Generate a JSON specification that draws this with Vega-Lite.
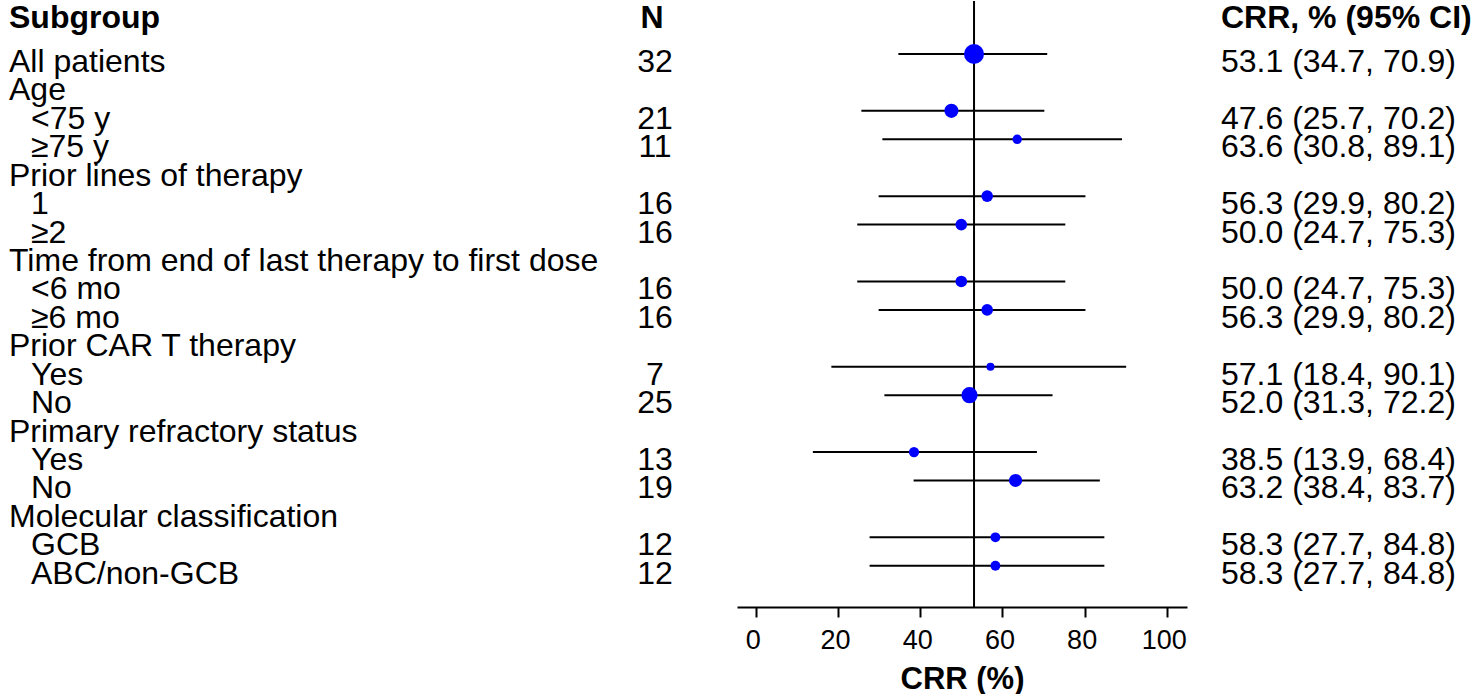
{
  "$schema": "https://vega.github.io/schema/vega-lite/v6.json",
  "padding": 0,
  "spacing": 0,
  "bounds": "flush",
  "background": "white",
  "config": {
    "view": {"stroke": null},
    "font": "Liberation Sans",
    "text": {"font": "Liberation Sans", "color": "black"}
  },
  "datasets": {
    "rows": [
      {"row": 1, "label": "All patients", "level": 0, "N": 32, "est": 53.1, "lo": 34.7, "hi": 70.9, "ci": "53.1 (34.7, 70.9)"},
      {"row": 2, "label": "Age", "level": 0},
      {"row": 3, "label": "<75 y", "level": 1, "N": 21, "est": 47.6, "lo": 25.7, "hi": 70.2, "ci": "47.6 (25.7, 70.2)"},
      {"row": 4, "label": "≥75 y", "level": 1, "N": 11, "est": 63.6, "lo": 30.8, "hi": 89.1, "ci": "63.6 (30.8, 89.1)"},
      {"row": 5, "label": "Prior lines of therapy", "level": 0},
      {"row": 6, "label": "1", "level": 1, "N": 16, "est": 56.3, "lo": 29.9, "hi": 80.2, "ci": "56.3 (29.9, 80.2)"},
      {"row": 7, "label": "≥2", "level": 1, "N": 16, "est": 50.0, "lo": 24.7, "hi": 75.3, "ci": "50.0 (24.7, 75.3)"},
      {"row": 8, "label": "Time from end of last therapy to first dose", "level": 0},
      {"row": 9, "label": "<6 mo", "level": 1, "N": 16, "est": 50.0, "lo": 24.7, "hi": 75.3, "ci": "50.0 (24.7, 75.3)"},
      {"row": 10, "label": "≥6 mo", "level": 1, "N": 16, "est": 56.3, "lo": 29.9, "hi": 80.2, "ci": "56.3 (29.9, 80.2)"},
      {"row": 11, "label": "Prior CAR T therapy", "level": 0},
      {"row": 12, "label": "Yes", "level": 1, "N": 7, "est": 57.1, "lo": 18.4, "hi": 90.1, "ci": "57.1 (18.4, 90.1)"},
      {"row": 13, "label": "No", "level": 1, "N": 25, "est": 52.0, "lo": 31.3, "hi": 72.2, "ci": "52.0 (31.3, 72.2)"},
      {"row": 14, "label": "Primary refractory status", "level": 0},
      {"row": 15, "label": "Yes", "level": 1, "N": 13, "est": 38.5, "lo": 13.9, "hi": 68.4, "ci": "38.5 (13.9, 68.4)"},
      {"row": 16, "label": "No", "level": 1, "N": 19, "est": 63.2, "lo": 38.4, "hi": 83.7, "ci": "63.2 (38.4, 83.7)"},
      {"row": 17, "label": "Molecular classification", "level": 0},
      {"row": 18, "label": "GCB", "level": 1, "N": 12, "est": 58.3, "lo": 27.7, "hi": 84.8, "ci": "58.3 (27.7, 84.8)"},
      {"row": 19, "label": "ABC/non-GCB", "level": 1, "N": 12, "est": 58.3, "lo": 27.7, "hi": 84.8, "ci": "58.3 (27.7, 84.8)"}
    ],
    "header": [
      {"row": -0.5, "level": 0, "subgroup": "Subgroup", "n": "N", "crr": "CRR, % (95% CI)"}
    ],
    "overall": [
      {"overall": 53.1}
    ]
  },
  "hconcat": [
    {
      "width": 573,
      "height": 606,
      "layer": [
        {
          "data": {"name": "rows"},
          "mark": {"type": "text", "align": "left", "baseline": "alphabetic", "dy": 18, "fontSize": 32},
          "encoding": {
            "x": {"field": "level", "type": "quantitative", "scale": {"domain": [0, 1], "range": [9, 31]}, "axis": null},
            "y": {"field": "row", "type": "quantitative", "scale": {"domain": [-0.864, 20.45], "reverse": true, "nice": false, "zero": false}, "axis": null},
            "text": {"field": "label"}
          }
        },
        {
          "data": {"name": "header"},
          "mark": {"type": "text", "align": "left", "baseline": "alphabetic", "dy": 17, "fontSize": 32, "fontWeight": "bold"},
          "encoding": {
            "x": {"field": "level", "type": "quantitative"},
            "y": {"field": "row", "type": "quantitative"},
            "text": {"field": "subgroup"}
          }
        }
      ]
    },
    {
      "width": 164,
      "height": 606,
      "layer": [
        {
          "data": {"name": "rows"},
          "transform": [{"filter": "isValid(datum.N)"}],
          "mark": {"type": "text", "align": "center", "baseline": "alphabetic", "dy": 18, "fontSize": 32},
          "encoding": {
            "y": {"field": "row", "type": "quantitative", "scale": {"domain": [-0.864, 20.45], "reverse": true, "nice": false, "zero": false}, "axis": null},
            "text": {"field": "N", "type": "quantitative"}
          }
        },
        {
          "data": {"name": "header"},
          "mark": {"type": "text", "align": "center", "baseline": "alphabetic", "dy": 17, "dx": -3, "fontSize": 32, "fontWeight": "bold"},
          "encoding": {
            "y": {"field": "row", "type": "quantitative"},
            "text": {"field": "n"}
          }
        }
      ]
    },
    {
      "width": 450,
      "height": 606,
      "layer": [
        {
          "data": {"name": "overall"},
          "mark": {"type": "rule", "color": "black", "strokeWidth": 2},
          "encoding": {
            "x": {"field": "overall", "type": "quantitative", "scale": {"domain": [-4.55, 104.9], "nice": false, "zero": false},
              "axis": {
                "title": "CRR (%)",
                "values": [0, 20, 40, 60, 80, 100],
                "grid": false,
                "domainColor": "black",
                "domainWidth": 2,
                "tickColor": "black",
                "tickWidth": 2,
                "tickSize": 10,
                "labelFontSize": 27,
                "labelColor": "black",
                "labelPadding": 10,
                "labelOffset": -3,
                "labelFont": "Liberation Sans",
                "titleFont": "Liberation Sans",
                "titleFontSize": 31,
                "titleFontWeight": "bold",
                "titleColor": "black",
                "titlePadding": 11
              }
            }
          }
        },
        {
          "data": {"name": "rows"},
          "mark": {"type": "rule", "color": "black", "strokeWidth": 2},
          "encoding": {
            "x": {"field": "lo", "type": "quantitative"},
            "x2": {"field": "hi"},
            "y": {"field": "row", "type": "quantitative", "scale": {"domain": [-0.864, 20.45], "reverse": true, "nice": false, "zero": false}, "axis": null}
          }
        },
        {
          "data": {"name": "rows"},
          "mark": {"type": "point", "shape": "circle", "filled": true, "color": "#0000ff", "opacity": 1},
          "encoding": {
            "x": {"field": "est", "type": "quantitative"},
            "y": {"field": "row", "type": "quantitative"},
            "size": {"field": "N", "type": "quantitative", "scale": {"type": "pow", "exponent": 2, "domain": [7, 32], "range": [64, 400], "zero": false}, "legend": null}
          }
        }
      ]
    },
    {
      "width": 287,
      "height": 606,
      "layer": [
        {
          "data": {"name": "rows"},
          "transform": [{"filter": "isValid(datum.ci)"}],
          "mark": {"type": "text", "align": "left", "baseline": "alphabetic", "dy": 18, "dx": 34, "fontSize": 32},
          "encoding": {
            "x": {"datum": 0, "type": "quantitative", "scale": {"domain": [0, 1]}, "axis": null},
            "y": {"field": "row", "type": "quantitative", "scale": {"domain": [-0.864, 20.45], "reverse": true, "nice": false, "zero": false}, "axis": null},
            "text": {"field": "ci"}
          }
        },
        {
          "data": {"name": "header"},
          "mark": {"type": "text", "align": "left", "baseline": "alphabetic", "dy": 17, "dx": 34, "fontSize": 32, "fontWeight": "bold"},
          "encoding": {
            "x": {"datum": 0, "type": "quantitative"},
            "y": {"field": "row", "type": "quantitative"},
            "text": {"field": "crr"}
          }
        }
      ]
    }
  ]
}
